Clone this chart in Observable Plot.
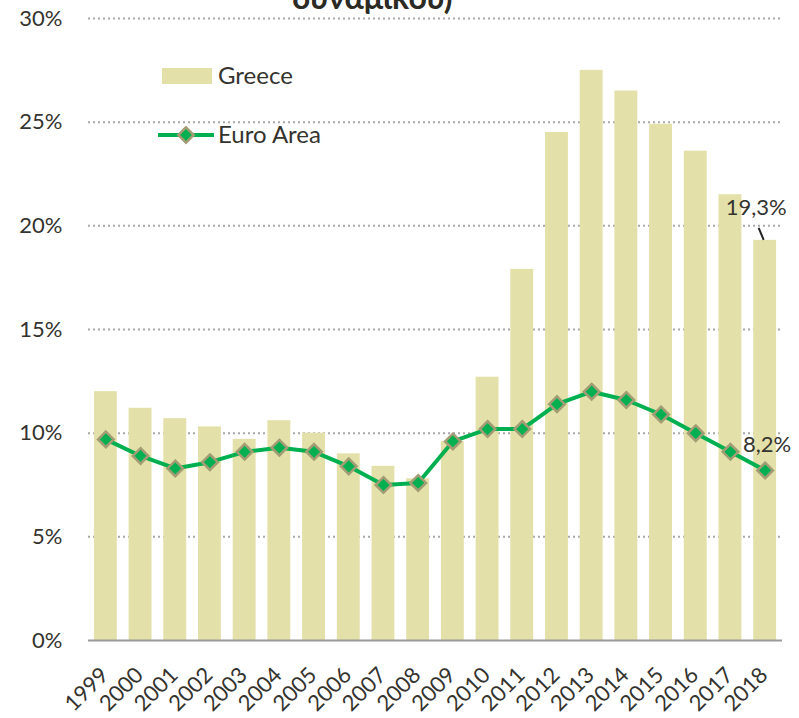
<!DOCTYPE html>
<html>
<head>
<meta charset="utf-8">
<script src="https://cdn.jsdelivr.net/npm/d3@7"></script>
<script src="https://cdn.jsdelivr.net/npm/@observablehq/plot@0.6"></script>
<style>
  html, body { margin: 0; padding: 0; background: #fff; }
  #chart { position: relative; width: 799px; height: 718px; overflow: hidden; }
</style>
</head>
<body>
<div id="chart"></div>
<script>
const years = ["1999","2000","2001","2002","2003","2004","2005","2006","2007","2008","2009","2010","2011","2012","2013","2014","2015","2016","2017","2018"];
const greece = [12.0, 11.2, 10.7, 10.3, 9.7, 10.6, 10.0, 9.0, 8.4, 7.8, 9.6, 12.7, 17.9, 24.5, 27.5, 26.5, 24.9, 23.6, 21.5, 19.3];
const euroArea = [9.7, 8.9, 8.3, 8.6, 9.1, 9.3, 9.1, 8.4, 7.5, 7.6, 9.6, 10.2, 10.2, 11.4, 12.0, 11.6, 10.9, 10.0, 9.1, 8.2];
const yTicks = [0, 5, 10, 15, 20, 25, 30];
const seriesNames = ["Greece", "Euro Area"];
const titleText = "δυναμικού)";
const greeceLabel = [{year: "2018", value: 19.3, text: "19,3%"}];
const euroLabel = [{year: "2018", value: 8.2, text: "8,2%"}];

const barColor = "#e4e0a9";
const lineColor = "#00b050";
const markerStroke = "#a39c74";
const textColor = "#35332e";
const FONT = "Lato, 'Open Sans', sans-serif";

const greeceData = years.map((y, i) => ({year: y, value: greece[i]}));
const euroData = years.map((y, i) => ({year: y, value: euroArea[i]}));

const plot = Plot.plot({
  width: 799,
  height: 718,
  marginTop: 18,
  marginBottom: 78,
  marginLeft: 88,
  marginRight: 17,
  style: {fontFamily: FONT, fontSize: "22px", color: textColor, background: "#fff"},
  x: {domain: years, paddingInner: 0.34, paddingOuter: 0.17, round: false, label: null},
  y: {domain: [0, 30], label: null},
  marks: [
    Plot.ruleY(yTicks.filter(d => d > 0), {stroke: "#a8a8a8", strokeWidth: 2, strokeDasharray: "2,3"}),
    Plot.barY(greeceData, {x: "year", y: "value", fill: barColor}),
    Plot.ruleY([0], {stroke: "#9a9a9a", strokeWidth: 2}),
    Plot.line(euroData, {x: "year", y: "value", stroke: lineColor, strokeWidth: 4}),
    Plot.dot(euroData, {x: "year", y: "value", symbol: "diamond2", r: 7, fill: lineColor, stroke: markerStroke, strokeWidth: 2.5}),
    Plot.axisY(yTicks, {tickSize: 0, tickPadding: 26, tickFormat: d => d + "%", fontSize: 22, fill: textColor}),
    Plot.axisX({tickSize: 0, tickRotate: -45, tickPadding: 31, dx: -1, fontSize: 22, fill: textColor}),
    Plot.text(greeceLabel, {x: "year", y: "value", text: "text", dx: -9, dy: -32, fontSize: 22, fill: textColor}),
    Plot.text(euroLabel, {x: "year", y: "value", text: "text", dx: 2, dy: -26, fontSize: 22, fill: textColor}),
    Plot.text([titleText], {frameAnchor: "top", dx: -63, dy: -10, lineAnchor: "bottom", fontSize: 32, fontWeight: "bold", fill: "#2b2a25"})
  ]
});

document.getElementById("chart").appendChild(plot);

// leader line and legend, positioned via the plot scales
const svg = d3.select(plot);
const xs = plot.scale("x"), ys = plot.scale("y");
const cx = xs.apply("2018") + xs.bandwidth / 2;
const ty = ys.apply(19.3);
svg.append("line").attr("x1", cx - 6).attr("y1", ty - 12).attr("x2", cx - 1).attr("y2", ty)
  .attr("stroke", "#222").attr("stroke-width", 2);

const lg = svg.append("g").attr("font-family", FONT).attr("font-size", 24).attr("fill", textColor).attr("text-anchor", "start");
lg.append("rect").attr("x", 162).attr("y", 68).attr("width", 50).attr("height", 16).attr("fill", barColor);
lg.append("text").attr("x", 218).attr("y", 76).attr("dy", "0.35em").text(seriesNames[0]);
lg.append("line").attr("x1", 158).attr("x2", 214).attr("y1", 135).attr("y2", 135).attr("stroke", lineColor).attr("stroke-width", 4);
lg.append("path").attr("d", d3.symbol(d3.symbolDiamond2, 150)()).attr("transform", "translate(186,135)")
  .attr("fill", lineColor).attr("stroke", markerStroke).attr("stroke-width", 2.5);
lg.append("text").attr("x", 218).attr("y", 135).attr("dy", "0.35em").text(seriesNames[1]);
</script>
</body>
</html>
